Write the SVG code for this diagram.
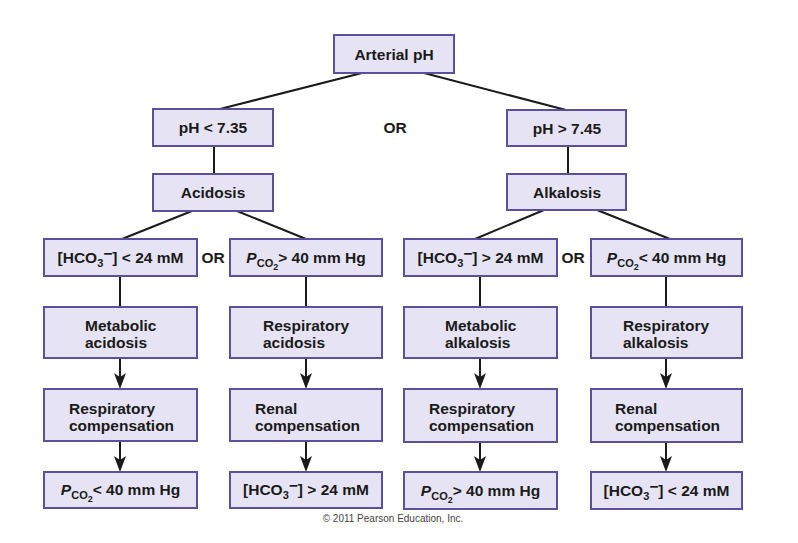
<svg xmlns="http://www.w3.org/2000/svg" width="798" height="543" viewBox="0 0 798 543">
<style>
.box{fill:#e6e4f4;stroke:#5b4f9e;stroke-width:2}
.t{font-family:"Liberation Sans",Arial,sans-serif;font-weight:bold;font-size:15.5px;fill:#1a1a1a}
.c{text-anchor:middle}
.ln{stroke:#1a1a1a;stroke-width:2;fill:none}
.sub{font-size:11px}
.sub2{font-size:9px}
.cp{font-family:"Liberation Sans",Arial,sans-serif;font-size:10px;fill:#444;text-anchor:middle}
</style>
<defs>
<marker id="ah" markerWidth="16" markerHeight="12" refX="10" refY="6" orient="auto" markerUnits="userSpaceOnUse" viewBox="0 0 16 12">
<path d="M0,0 L16,6 L0,12 L4,6 Z" fill="#1a1a1a"/>
</marker>
</defs>
<rect width="798" height="543" fill="#ffffff"/>
<g id="connectors">
<line class="ln" x1="362" y1="73" x2="220" y2="109"/>
<line class="ln" x1="424" y1="73" x2="566" y2="110"/>
<line class="ln" x1="214" y1="146" x2="214" y2="174"/>
<line class="ln" x1="568" y1="146" x2="568" y2="174"/>
<line class="ln" x1="192" y1="211" x2="122" y2="239"/>
<line class="ln" x1="237" y1="211" x2="306" y2="239"/>
<line class="ln" x1="544" y1="210" x2="475" y2="239"/>
<line class="ln" x1="597" y1="210" x2="670" y2="239"/>
<line class="ln" x1="120" y1="276" x2="120" y2="307"/>
<line class="ln" x1="306" y1="276" x2="306" y2="307"/>
<line class="ln" x1="480" y1="276" x2="480" y2="307"/>
<line class="ln" x1="666" y1="276" x2="666" y2="307"/>
<line class="ln" x1="120" y1="358" x2="120" y2="383" marker-end="url(#ah)"/>
<line class="ln" x1="306" y1="358" x2="306" y2="383" marker-end="url(#ah)"/>
<line class="ln" x1="480" y1="358" x2="480" y2="383" marker-end="url(#ah)"/>
<line class="ln" x1="666" y1="358" x2="666" y2="383" marker-end="url(#ah)"/>
<line class="ln" x1="120" y1="441" x2="120" y2="466" marker-end="url(#ah)"/>
<line class="ln" x1="306" y1="441" x2="306" y2="466" marker-end="url(#ah)"/>
<line class="ln" x1="480" y1="442" x2="480" y2="466" marker-end="url(#ah)"/>
<line class="ln" x1="666" y1="442" x2="666" y2="466" marker-end="url(#ah)"/>
</g>
<g id="arterial">
<rect class="box" x="334" y="35" width="120" height="38"/>
<text class="t c" x="394" y="59.5">Arterial pH</text>
</g>
<text class="t c" x="395" y="133">OR</text>
<g id="ph-low">
<rect class="box" x="153" y="109" width="120" height="37"/>
<text class="t c" x="213" y="133">pH &lt; 7.35</text>
</g>
<g id="ph-high">
<rect class="box" x="507" y="110" width="119" height="36"/>
<text class="t c" x="567" y="133.5">pH &gt; 7.45</text>
</g>
<g id="acidosis">
<rect class="box" x="153" y="174" width="120" height="37"/>
<text class="t c" x="213" y="198">Acidosis</text>
</g>
<g id="alkalosis">
<rect class="box" x="507" y="174" width="119" height="36"/>
<text class="t c" x="567" y="197.5">Alkalosis</text>
</g>
<g id="hco3-low">
<rect class="box" x="44" y="239" width="153" height="37"/>
<text class="t c" x="120.5" y="263">[HCO<tspan class="sub" baseline-shift="-4">3</tspan><tspan baseline-shift="4">−</tspan>] &lt; 24 mM</text>
</g>
<text class="t c" x="213" y="263">OR</text>
<g id="pco2-high">
<rect class="box" x="230" y="239" width="152" height="37"/>
<text class="t c" x="306" y="263"><tspan font-style="italic">P</tspan><tspan class="sub" baseline-shift="-4">CO</tspan><tspan class="sub2" baseline-shift="-7">2</tspan>&gt; 40 mm Hg</text>
</g>
<g id="hco3-high">
<rect class="box" x="404" y="239" width="153" height="37"/>
<text class="t c" x="480.5" y="263">[HCO<tspan class="sub" baseline-shift="-4">3</tspan><tspan baseline-shift="4">−</tspan>] &gt; 24 mM</text>
</g>
<text class="t c" x="573" y="263">OR</text>
<g id="pco2-low">
<rect class="box" x="591" y="239" width="151" height="37"/>
<text class="t c" x="666.5" y="263"><tspan font-style="italic">P</tspan><tspan class="sub" baseline-shift="-4">CO</tspan><tspan class="sub2" baseline-shift="-7">2</tspan>&lt; 40 mm Hg</text>
</g>
<g id="met-acid">
<rect class="box" x="44" y="307" width="153" height="51"/>
<text class="t" x="85" y="331">Metabolic<tspan x="85" y="348">acidosis</tspan></text>
</g>
<g id="resp-acid">
<rect class="box" x="230" y="307" width="152" height="51"/>
<text class="t" x="263" y="331">Respiratory<tspan x="263" y="348">acidosis</tspan></text>
</g>
<g id="met-alk">
<rect class="box" x="404" y="307" width="153" height="51"/>
<text class="t" x="445" y="331">Metabolic<tspan x="445" y="348">alkalosis</tspan></text>
</g>
<g id="resp-alk">
<rect class="box" x="591" y="307" width="151" height="51"/>
<text class="t" x="623" y="331">Respiratory<tspan x="623" y="348">alkalosis</tspan></text>
</g>
<g id="resp-comp-1">
<rect class="box" x="44" y="389" width="153" height="52"/>
<text class="t" x="69" y="414">Respiratory<tspan x="69" y="431">compensation</tspan></text>
</g>
<g id="renal-comp-1">
<rect class="box" x="230" y="389" width="152" height="52"/>
<text class="t" x="255" y="414">Renal<tspan x="255" y="431">compensation</tspan></text>
</g>
<g id="resp-comp-2">
<rect class="box" x="404" y="389" width="153" height="53"/>
<text class="t" x="429" y="414">Respiratory<tspan x="429" y="431">compensation</tspan></text>
</g>
<g id="renal-comp-2">
<rect class="box" x="591" y="389" width="151" height="53"/>
<text class="t" x="615" y="414">Renal<tspan x="615" y="431">compensation</tspan></text>
</g>
<g id="pco2-low-out">
<rect class="box" x="44" y="472" width="153" height="36"/>
<text class="t c" x="120.5" y="495"><tspan font-style="italic">P</tspan><tspan class="sub" baseline-shift="-4">CO</tspan><tspan class="sub2" baseline-shift="-7">2</tspan>&lt; 40 mm Hg</text>
</g>
<g id="hco3-high-out">
<rect class="box" x="230" y="472" width="152" height="36"/>
<text class="t c" x="306" y="495">[HCO<tspan class="sub" baseline-shift="-4">3</tspan><tspan baseline-shift="4">−</tspan>] &gt; 24 mM</text>
</g>
<g id="pco2-high-out">
<rect class="box" x="404" y="472" width="153" height="37"/>
<text class="t c" x="480.5" y="495.5"><tspan font-style="italic">P</tspan><tspan class="sub" baseline-shift="-4">CO</tspan><tspan class="sub2" baseline-shift="-7">2</tspan>&gt; 40 mm Hg</text>
</g>
<g id="hco3-low-out">
<rect class="box" x="591" y="472" width="151" height="37"/>
<text class="t c" x="666.5" y="495.5">[HCO<tspan class="sub" baseline-shift="-4">3</tspan><tspan baseline-shift="4">−</tspan>] &lt; 24 mM</text>
</g>
<text class="cp" x="393" y="522">© 2011 Pearson Education, Inc.</text>
</svg>
